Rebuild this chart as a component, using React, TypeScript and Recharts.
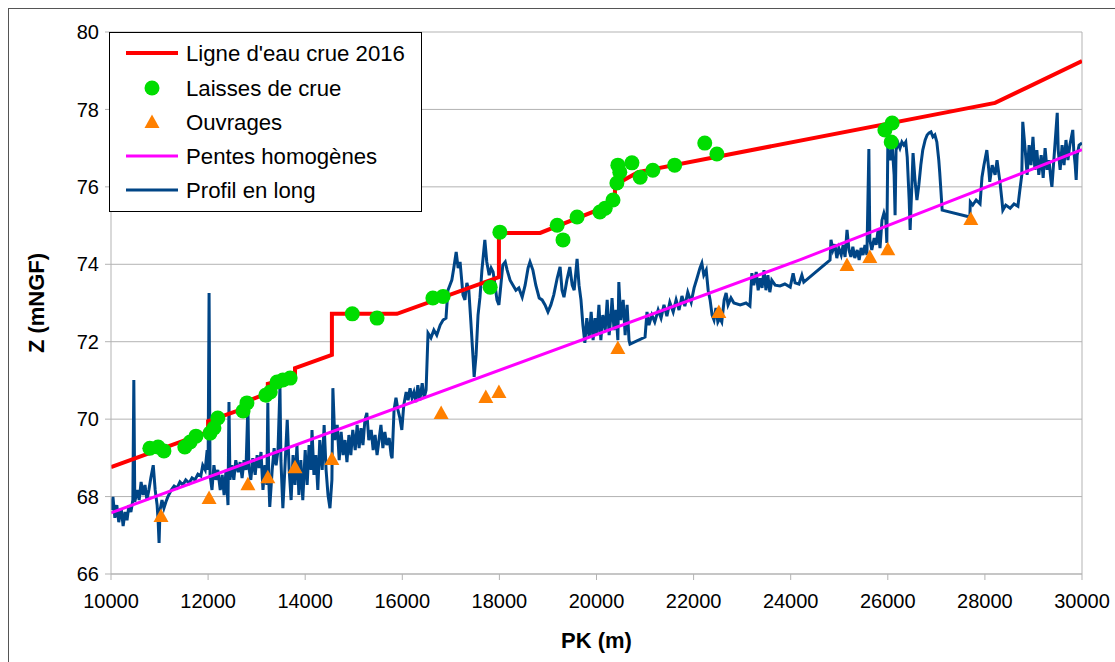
import React from 'react';
import { ComposedChart, Line, Scatter, XAxis, YAxis, CartesianGrid, ReferenceLine, Legend } from 'recharts';

const FONT = '"Liberation Sans", Arial, sans-serif';

const xTicks = [10000, 12000, 14000, 16000, 18000, 20000, 22000, 24000, 26000, 28000, 30000];
const yTicks = [66, 68, 70, 72, 74, 76, 78, 80];

const legendLabels = ["Ligne d'eau crue 2016", 'Laisses de crue', 'Ouvrages', 'Pentes homogènes', 'Profil en long'];

const crueLine: [number, number][] = [
  [10000, 68.76], [12000, 69.67], [12000, 69.95], [12820, 70.31], [12820, 70.47], [13230, 70.67], [13230, 70.91],
  [13790, 71.09], [13790, 71.32], [14550, 71.66], [14550, 72.72], [15890, 72.72], [17990, 73.67], [17990, 74.81],
  [18840, 74.81], [20380, 75.58], [20380, 76.05], [20855, 76.38], [28210, 78.17], [30000, 79.25],
];

const laisses: [number, number][] = [
  [10800, 69.25], [10970, 69.28], [11090, 69.18], [11520, 69.28], [11630, 69.41], [11750, 69.56], [12040, 69.64],
  [12120, 69.77], [12200, 70.03], [12720, 70.21], [12800, 70.42], [13190, 70.62], [13280, 70.70], [13420, 70.96],
  [13540, 71.01], [13690, 71.06], [14970, 72.72], [15480, 72.61], [16630, 73.13], [16840, 73.17], [17810, 73.41],
  [18010, 74.83], [19190, 75.01], [19310, 74.63], [19600, 75.22], [20070, 75.35], [20180, 75.45], [20340, 75.66],
  [20420, 76.10], [20440, 76.56], [20480, 76.38], [20730, 76.62], [20900, 76.25], [21160, 76.43], [21610, 76.56],
  [22230, 77.13], [22480, 76.85], [25940, 77.47], [26090, 77.65], [26070, 77.16],
];

const ouvrages: [number, number][] = [
  [11030, 67.50], [12020, 67.96], [12820, 68.32], [13230, 68.50], [13790, 68.76], [14550, 68.97], [16800, 70.16],
  [17720, 70.57], [17990, 70.70], [20440, 71.84], [22520, 72.77], [25160, 73.98], [25630, 74.19], [26000, 74.39],
  [27710, 75.17],
];

const pentes: [number, number][] = [[10000, 67.58], [24200, 74.12], [30000, 76.96]];

const profil: [number, number][] = [
  [10000, 67.65], [10040, 67.99], [10080, 67.45], [10120, 67.78], [10160, 67.34], [10210, 67.70], [10250, 67.24],
  [10290, 67.60], [10330, 67.39], [10370, 67.78], [10410, 67.60], [10450, 67.91], [10470, 71.01], [10490, 67.86],
  [10540, 68.17], [10580, 67.91], [10620, 68.38], [10660, 68.04], [10700, 68.30], [10740, 67.91], [10780, 68.17],
  [10820, 68.48], [10870, 68.81], [10910, 68.17], [10950, 67.78], [10970, 67.39], [10990, 66.80], [11010, 67.65],
  [11050, 67.91], [11090, 67.70], [11130, 67.86], [11170, 67.99], [11240, 68.17], [11300, 68.27], [11360, 68.22],
  [11420, 68.38], [11480, 68.30], [11540, 68.43], [11610, 68.35], [11670, 68.48], [11730, 68.43], [11790, 68.58],
  [11850, 68.53], [11890, 68.81], [11940, 68.69], [11980, 69.20], [12000, 68.69], [12020, 73.26], [12040, 68.56],
  [12080, 68.17], [12120, 68.81], [12160, 68.43], [12200, 68.69], [12250, 68.17], [12290, 68.56], [12330, 68.04],
  [12370, 68.69], [12410, 67.78], [12430, 70.44], [12450, 68.43], [12490, 68.81], [12530, 68.43], [12570, 68.94],
  [12620, 68.63], [12660, 68.89], [12700, 68.48], [12740, 68.94], [12780, 68.69], [12820, 70.36], [12840, 68.74],
  [12880, 68.43], [12920, 68.99], [12970, 68.56], [13010, 69.07], [13050, 68.74], [13090, 69.15], [13130, 68.17],
  [13170, 68.81], [13210, 68.30], [13230, 70.42], [13250, 68.43], [13270, 67.73], [13320, 68.69], [13360, 69.25],
  [13400, 68.81], [13440, 69.20], [13480, 70.83], [13500, 68.94], [13540, 67.70], [13580, 68.69], [13630, 69.98],
  [13670, 68.69], [13710, 67.91], [13750, 69.07], [13790, 68.30], [13830, 69.33], [13870, 68.04], [13910, 68.94],
  [13950, 67.91], [14000, 69.20], [14040, 68.30], [14080, 69.33], [14120, 68.69], [14140, 69.72], [14180, 68.56],
  [14220, 69.07], [14260, 68.17], [14300, 69.46], [14350, 68.69], [14390, 69.85], [14430, 68.69], [14470, 68.04],
  [14510, 67.70], [14550, 68.43], [14570, 70.80], [14610, 69.46], [14660, 69.85], [14700, 68.94], [14740, 69.67],
  [14780, 69.07], [14820, 69.46], [14860, 68.89], [14900, 69.59], [14940, 69.07], [14980, 69.72], [15030, 69.20],
  [15070, 69.85], [15110, 69.25], [15150, 69.77], [15190, 69.33], [15230, 69.98], [15270, 70.16], [15310, 69.46],
  [15360, 69.72], [15400, 69.20], [15440, 69.59], [15480, 69.07], [15520, 69.46], [15560, 69.85], [15600, 69.25],
  [15640, 69.67], [15680, 69.33], [15730, 69.51], [15770, 69.07], [15790, 68.99], [15830, 70.24], [15870, 70.55],
  [15910, 70.24], [15950, 70.03], [15990, 69.72], [16030, 70.36], [16080, 70.70], [16120, 70.49], [16160, 70.80],
  [16200, 70.55], [16240, 70.70], [16280, 70.44], [16320, 70.88], [16360, 70.49], [16410, 70.93], [16450, 70.55],
  [16490, 70.75], [16530, 72.22], [16590, 72.10], [16650, 72.30], [16710, 72.17], [16780, 72.43], [16840, 72.56],
  [16900, 72.61], [16940, 73.33], [16980, 73.46], [17020, 73.59], [17060, 73.90], [17110, 74.32], [17150, 73.90],
  [17190, 74.06], [17250, 73.21], [17290, 73.08], [17330, 73.52], [17370, 73.33], [17410, 72.56], [17460, 71.53],
  [17480, 71.09], [17520, 71.66], [17560, 72.69], [17600, 73.15], [17640, 73.85], [17680, 74.37], [17700, 74.63],
  [17740, 74.06], [17790, 73.72], [17830, 73.90], [17870, 73.80], [17910, 73.46], [17950, 73.08], [17990, 72.95],
  [18030, 73.46], [18070, 73.98], [18120, 74.06], [18160, 73.85], [18220, 73.59], [18280, 73.46], [18340, 73.33],
  [18400, 73.39], [18470, 73.15], [18530, 73.46], [18590, 73.90], [18630, 74.06], [18690, 73.85], [18750, 73.46],
  [18820, 73.13], [18880, 73.08], [18940, 72.95], [19000, 72.77], [19060, 72.95], [19120, 73.21], [19190, 73.64],
  [19250, 73.93], [19290, 73.33], [19330, 73.15], [19390, 73.59], [19450, 73.93], [19500, 73.46], [19540, 73.33],
  [19600, 74.14], [19640, 73.46], [19680, 73.08], [19720, 72.43], [19760, 71.97], [19800, 72.61], [19850, 72.10],
  [19890, 72.77], [19930, 72.04], [19970, 72.61], [20010, 72.17], [20050, 72.95], [20090, 72.04], [20130, 72.69],
  [20180, 72.30], [20220, 73.08], [20260, 72.17], [20300, 72.69], [20320, 73.13], [20360, 72.30], [20400, 72.82],
  [20440, 72.04], [20460, 73.54], [20500, 72.56], [20550, 73.08], [20590, 72.17], [20630, 72.95], [20670, 72.04],
  [20690, 71.94], [21000, 72.12], [21040, 72.77], [21080, 72.43], [21140, 72.69], [21200, 72.51], [21270, 72.82],
  [21330, 72.61], [21390, 72.95], [21450, 72.66], [21510, 73.02], [21580, 72.77], [21640, 73.08], [21700, 72.82],
  [21760, 73.18], [21820, 72.92], [21880, 73.28], [21950, 73.02], [22010, 73.39], [22070, 73.64], [22130, 73.90],
  [22170, 74.03], [22210, 73.72], [22260, 73.85], [22300, 73.33], [22340, 73.08], [22380, 72.69], [22420, 72.56],
  [22460, 72.87], [22500, 72.51], [22540, 72.61], [22580, 72.51], [22630, 73.08], [22670, 73.26], [22710, 72.95],
  [22770, 73.13], [22830, 73.00], [22960, 72.95], [23080, 73.00], [23160, 72.92], [23200, 73.77], [23240, 73.46],
  [23290, 73.80], [23330, 73.33], [23370, 73.64], [23410, 73.39], [23450, 73.85], [23490, 73.33], [23530, 73.72],
  [23570, 73.28], [23610, 73.59], [23680, 73.46], [23780, 73.44], [23880, 73.49], [23990, 73.41], [24050, 73.77],
  [24090, 73.52], [24170, 73.49], [24230, 73.72], [24270, 73.54], [24810, 74.11], [24830, 74.63], [24870, 74.37],
  [24910, 74.52], [24950, 74.16], [24990, 74.42], [25040, 74.24], [25080, 74.50], [25120, 74.19], [25160, 74.89],
  [25200, 74.37], [25240, 74.19], [25280, 74.45], [25320, 74.16], [25370, 74.37], [25410, 74.11], [25450, 74.42],
  [25490, 74.24], [25530, 74.50], [25570, 74.24], [25610, 76.98], [25630, 74.63], [25670, 74.37], [25720, 74.68],
  [25760, 74.50], [25800, 74.89], [25840, 74.42], [25880, 75.14], [25920, 75.32], [25960, 75.14], [25980, 74.55],
  [26000, 77.03], [26050, 76.69], [26090, 77.08], [26130, 76.31], [26150, 75.27], [26170, 76.95], [26210, 77.13],
  [26250, 77.00], [26290, 77.16], [26330, 77.08], [26370, 77.16], [26400, 76.77], [26440, 75.66], [26460, 74.89],
  [26500, 76.18], [26520, 76.87], [26560, 76.18], [26600, 75.66], [26640, 76.05], [26680, 76.56], [26720, 76.95],
  [26770, 77.21], [26810, 77.34], [26850, 77.39], [26890, 77.42], [26930, 77.29], [26970, 77.34], [27010, 77.16],
  [27050, 76.69], [27070, 76.36], [27120, 75.40], [27690, 75.22], [27700, 75.61], [27750, 75.53], [27820, 75.66],
  [27900, 75.56], [27940, 76.25], [27980, 76.56], [28040, 76.95], [28080, 76.44], [28100, 76.13], [28150, 76.56],
  [28210, 76.31], [28250, 76.69], [28290, 76.31], [28310, 76.13], [28350, 75.66], [28370, 75.40], [28430, 75.53],
  [28520, 75.45], [28600, 75.56], [28680, 75.50], [28720, 75.92], [28760, 76.31], [28780, 77.68], [28830, 76.95],
  [28870, 76.31], [28910, 77.08], [28950, 76.56], [28990, 77.29], [29030, 76.44], [29070, 76.95], [29110, 76.31],
  [29160, 76.82], [29200, 76.23], [29240, 77.00], [29280, 76.44], [29320, 76.69], [29360, 76.18], [29380, 76.00],
  [29420, 76.69], [29490, 77.91], [29510, 76.95], [29550, 76.44], [29590, 77.08], [29630, 76.56], [29670, 77.21],
  [29710, 76.69], [29750, 77.08], [29790, 77.34], [29810, 77.47], [29830, 76.95], [29860, 76.56], [29880, 76.18],
  [29900, 76.82], [29940, 77.08], [30000, 77.13],
];

const toRows = (arr: [number, number][]) => arr.map(([pk, z]) => ({ pk, z }));

const COL_RED = '#ff0000';
const COL_GREEN = '#00dd00';
const COL_ORANGE = '#ff8000';
const COL_MAGENTA = '#ff00ff';
const COL_BLUE = '#004586';

const GreenDot = (props: any) => {
  const { cx, cy } = props;
  if (cx == null || cy == null) return null;
  return <circle cx={cx} cy={cy} r={7.5} fill={COL_GREEN} />;
};

const OrangeTri = (props: any) => {
  const { cx, cy } = props;
  if (cx == null || cy == null) return null;
  return <polygon points={`${cx},${cy - 7.5} ${cx + 7.5},${cy + 6} ${cx - 7.5},${cy + 6}`} fill={COL_ORANGE} />;
};

const LegendBox = () => {
  const rows = [21, 56, 90, 124, 158];
  return (
    <svg width={314} height={181} style={{ display: 'block' }}>
      <rect x={0.5} y={0.5} width={312} height={179} fill="#ffffff" stroke="#000000" strokeWidth={1} />
      <line x1={17} x2={69} y1={rows[0]} y2={rows[0]} stroke={COL_RED} strokeWidth={4} />
      <circle cx={43} cy={rows[1]} r={7.5} fill={COL_GREEN} />
      <polygon points={`43,${rows[2] - 7.5} 50.5,${rows[2] + 6} 35.5,${rows[2] + 6}`} fill={COL_ORANGE} />
      <line x1={17} x2={69} y1={rows[3]} y2={rows[3]} stroke={COL_MAGENTA} strokeWidth={3} />
      <line x1={17} x2={69} y1={rows[4]} y2={rows[4]} stroke={COL_BLUE} strokeWidth={3} />
      {legendLabels.map((t, i) => (
        <text key={t} x={77} y={rows[i]} dy="0.36em" fontSize={22.2} fontFamily={FONT} fill="#000">
          {t}
        </text>
      ))}
    </svg>
  );
};

export default function App() {
  return (
    <div
      style={{
        position: 'fixed',
        left: 8,
        top: 8,
        width: 1106,
        height: 653,
        borderLeft: '1px solid #555',
        borderTop: '1px solid #555',
        background: '#fff',
        fontFamily: FONT,
      }}
    >
      <ComposedChart width={1106} height={653} margin={{ top: 23, right: 33, left: 0, bottom: 0 }}>
        <CartesianGrid vertical={false} stroke="#b3b3b3" strokeWidth={1} />
        <XAxis
          type="number"
          dataKey="pk"
          domain={[10000, 30000]}
          ticks={xTicks}
          interval={0}
          allowDataOverflow
          height={88}
          stroke="#b3b3b3"
          tickSize={6}
          tickMargin={14}
          tick={{ fontSize: 20, fill: '#000', fontFamily: FONT }}
          label={{ value: 'PK (m)', position: 'center', dy: 22, style: { fontSize: 22, fontWeight: 'bold', fill: '#000', fontFamily: FONT } }}
        />
        <YAxis
          type="number"
          dataKey="z"
          domain={[66, 80]}
          ticks={yTicks}
          interval={0}
          allowDataOverflow
          width={102}
          stroke="#b3b3b3"
          tickSize={6}
          tickMargin={6}
          tick={{ fontSize: 20, fill: '#000', fontFamily: FONT }}
          label={{ value: 'Z (mNGF)', angle: -90, position: 'center', dx: -24, style: { fontSize: 22, fontWeight: 'bold', fill: '#000', fontFamily: FONT } }}
        />
        <ReferenceLine x={30000} stroke="#b3b3b3" strokeWidth={1} />
        <Line data={toRows(profil)} dataKey="z" type="linear" stroke={COL_BLUE} strokeWidth={3} dot={false} activeDot={false} isAnimationActive={false} />
        <Line data={toRows(pentes)} dataKey="z" type="linear" stroke={COL_MAGENTA} strokeWidth={3} dot={false} activeDot={false} isAnimationActive={false} />
        <Line data={toRows(crueLine)} dataKey="z" type="linear" stroke={COL_RED} strokeWidth={4} dot={false} activeDot={false} isAnimationActive={false} />
        <Scatter data={toRows(laisses)} dataKey="z" shape={GreenDot} isAnimationActive={false} />
        <Scatter data={toRows(ouvrages)} dataKey="z" shape={OrangeTri} isAnimationActive={false} />
        <Legend
          layout="vertical"
          align="center"
          verticalAlign="middle"
          content={LegendBox}
          wrapperStyle={{ position: 'absolute', left: 100, top: 23, width: 314, height: 181 }}
        />
      </ComposedChart>
    </div>
  );
}
